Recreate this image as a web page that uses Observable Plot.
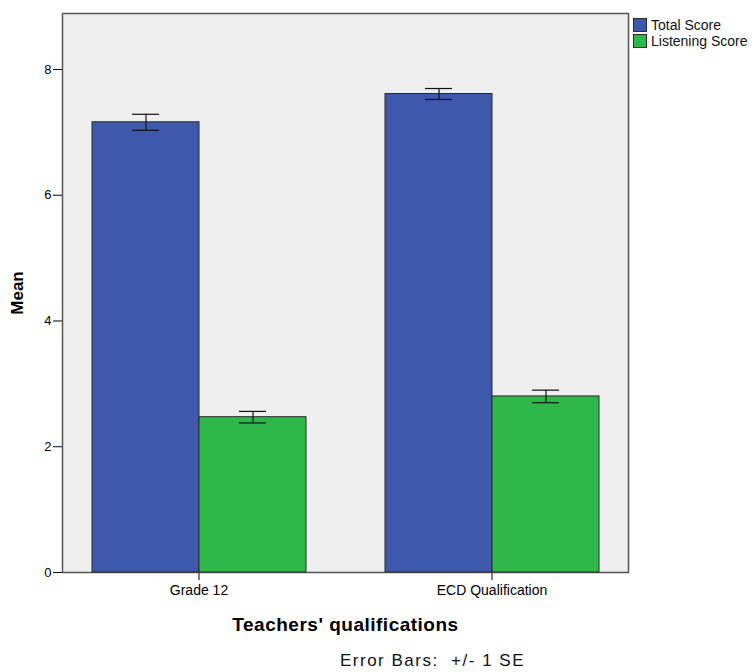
<!DOCTYPE html>
<html>
<head>
<meta charset="utf-8">
<script src="https://cdn.jsdelivr.net/npm/d3@7"></script>
<script src="https://cdn.jsdelivr.net/npm/@observablehq/plot@0.6"></script>
<style>
  body { margin: 0; background: #fff; font-family: "Liberation Sans", Arial, sans-serif; }
  #wrap { position: relative; width: 754px; height: 672px; }
  #legend { position: absolute; left: 633px; top: 17px; font-size: 14px; color: #111; }
  .row { display: flex; align-items: center; height: 16px; }
  .sw { width: 12px; height: 12px; border: 1px solid #2a2a2a; margin-right: 4px; box-sizing: content-box; }
  #caption { position: absolute; left: 340px; top: 651px; font-size: 17px; letter-spacing: 1.5px; color: #111; white-space: pre; }
  g[aria-label="y-axis label"] text, g[aria-label="fx-axis label"] text { font-weight: bold; }
  g[aria-label="y-axis label"] { font-size: 17px; }
  g[aria-label="fx-axis label"] { font-size: 19px; letter-spacing: 0.5px; }
  g[aria-label="fx-axis tick label"] { font-size: 14px; }
</style>
</head>
<body>
<div id="wrap">
  <div id="chart"></div>
  <div id="legend"></div>
  <div id="caption"></div>
</div>
<script>
const categories = ["Grade 12", "ECD Qualification"];
const seriesNames = ["Total Score", "Listening Score"];
const seriesColors = ["#3e58ac", "#2eb84a"];
const totalMeans = [7.16, 7.61];
const totalSE = [0.127, 0.087];
const listeningMeans = [2.47, 2.80];
const listeningSE = [0.092, 0.10];
const yTicks = [0, 2, 4, 6, 8];
const yLabel = "Mean";
const xLabel = "Teachers' qualifications";
const captionText = "Error Bars:  +/- 1 SE";

const data = [];
categories.forEach((c, i) => {
  data.push({cat: c, series: seriesNames[0], mean: totalMeans[i], se: totalSE[i]});
  data.push({cat: c, series: seriesNames[1], mean: listeningMeans[i], se: listeningSE[i]});
});

const chart = Plot.plot({
  width: 754,
  height: 640,
  marginTop: 13,
  marginBottom: 68,
  marginLeft: 62,
  marginRight: 125,
  style: {fontFamily: "Liberation Sans, Arial, sans-serif", fontSize: "13px", color: "#000", background: "transparent", overflow: "visible"},
  fx: {domain: categories, paddingInner: 0.068, paddingOuter: 0, tickSize: 8, tickPadding: 5, label: xLabel, labelAnchor: "center", labelOffset: 58},
  x: {domain: seriesNames, paddingInner: 0, paddingOuter: 0.2685, axis: null},
  y: {domain: [0, 8.89], ticks: yTicks, tickSize: 9, tickPadding: 2, label: yLabel, labelAnchor: "center", labelOffset: 52, labelArrow: "none", tickFormat: d => d},
  color: {domain: seriesNames, range: seriesColors},
  marks: [
    Plot.frame({facet: "super", fill: "#efefef", stroke: "#555", strokeWidth: 1.5}),
    Plot.barY(data, {fx: "cat", x: "series", y: "mean", fill: "series", stroke: "#2a2a2a", strokeWidth: 1}),
    Plot.ruleX(data, {fx: "cat", x: "series", y1: d => d.mean - d.se, y2: d => d.mean + d.se, stroke: "#111", strokeWidth: 1.2}),
    Plot.tickY(data, {fx: "cat", x: "series", y: d => d.mean - d.se, stroke: "#111", strokeWidth: 1.2, inset: 40}),
    Plot.tickY(data, {fx: "cat", x: "series", y: d => d.mean + d.se, stroke: "#111", strokeWidth: 1.2, inset: 40})
  ]
});
document.getElementById("chart").appendChild(chart);

const legend = d3.select("#legend");
seriesNames.forEach((s, i) => {
  const row = legend.append("div").attr("class", "row");
  row.append("div").attr("class", "sw").style("background", seriesColors[i]);
  row.append("span").text(s);
});
document.getElementById("caption").textContent = captionText;
</script>
</body>
</html>
